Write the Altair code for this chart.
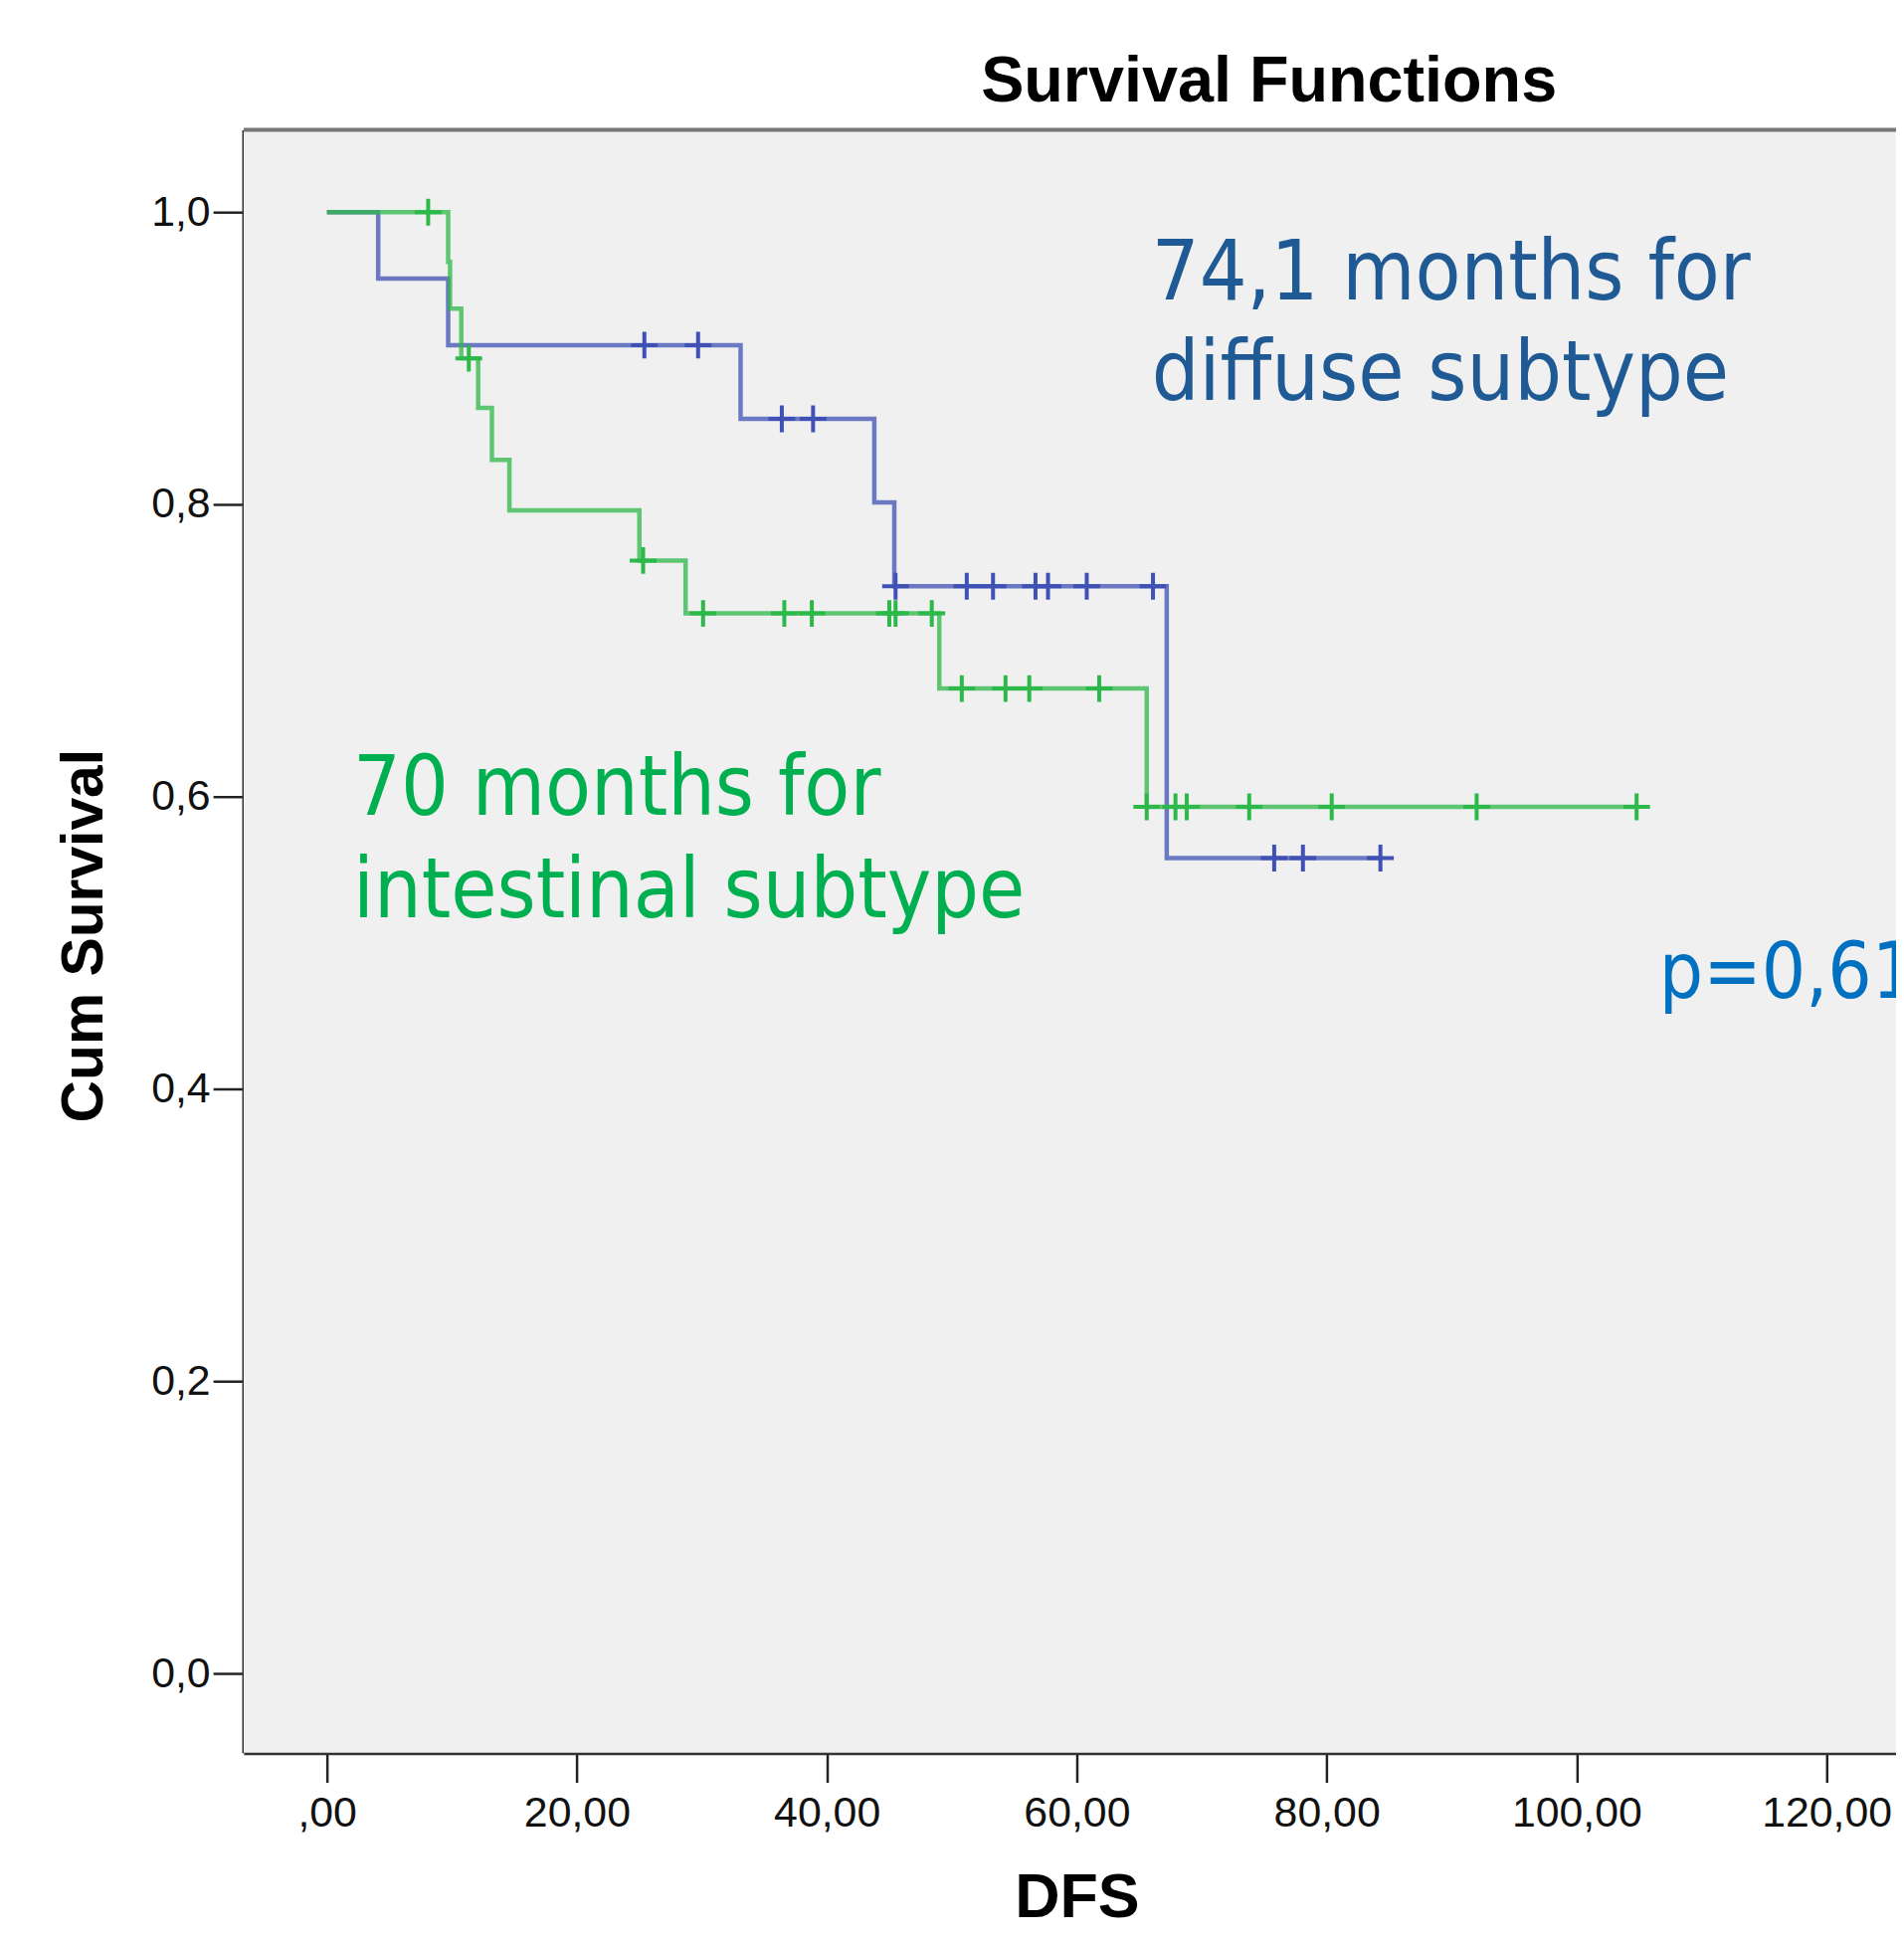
import altair as alt
import pandas as pd

# ---- data ----
blue_t = [0, 4.1, 9.7, 33.1, 43.8, 45.4, 67.2, 84.3]
blue_s = [1.0, 0.9545, 0.909, 0.8586, 0.8013, 0.744, 0.558, 0.558]
blue_cens_t = [25.4, 29.7, 36.4, 38.9, 45.5, 51.2, 53.3, 56.7, 57.7, 60.8, 66.1, 75.8, 78.1, 84.3]
blue_cens_s = [0.909, 0.909, 0.8586, 0.8586, 0.744, 0.744, 0.744, 0.744, 0.744, 0.744, 0.744,
               0.558, 0.558, 0.558]

green_t = [0, 9.7, 9.85, 10.75, 12.1, 13.2, 14.6, 25.0, 28.7, 49.0, 65.6, 104.8]
green_s = [1.0, 0.966, 0.934, 0.900, 0.866, 0.8305, 0.796, 0.7616, 0.7254, 0.674, 0.593, 0.593]
green_cens_t = [8.1, 11.35, 25.3, 30.1, 36.6, 38.8, 45.0, 45.5, 48.4, 50.8, 54.3, 56.2, 61.8,
                65.6, 67.9, 68.8, 73.8, 80.4, 92.0, 104.8]
green_cens_s = [1.0, 0.900, 0.7616, 0.7254, 0.7254, 0.7254, 0.7254, 0.7254, 0.7254,
                0.674, 0.674, 0.674, 0.674, 0.593, 0.593, 0.593, 0.593, 0.593, 0.593, 0.593]

groups = ["diffuse", "intestinal"]
group_colors = ["#3F51B5", "#2DB84A"]

x_ticks = [0, 20, 40, 60, 80, 100, 120]
y_ticks = [0.0, 0.2, 0.4, 0.6, 0.8, 1.0]

note_text = ["74,1 months for", "diffuse subtype", "70 months for", "intestinal subtype", "p=0,61"]
note_t = [66.0, 66.0, 2.1, 2.1, 106.6]
note_s = [0.9403, 0.8712, 0.5878, 0.5173, 0.4624]
note_color = ["#1F5A94", "#1F5A94", "#00B050", "#00B050", "#0070C0"]
note_size = [84, 84, 84, 84, 78]

# ---- tables ----
curve = pd.concat([
    pd.DataFrame({"t": blue_t, "s": blue_s, "g": groups[0]}),
    pd.DataFrame({"t": green_t, "s": green_s, "g": groups[1]}),
])
cens = pd.concat([
    pd.DataFrame({"t": blue_cens_t, "s": blue_cens_s, "g": groups[0]}),
    pd.DataFrame({"t": green_cens_t, "s": green_cens_s, "g": groups[1]}),
])
notes = pd.DataFrame({"t": note_t, "s": note_s, "txt": note_text, "c": note_color, "fs": note_size})

W, H = 1668, 1638

xscale = alt.Scale(domain=[-6.66, 125.56], nice=False, zero=False)
yscale = alt.Scale(domain=[-0.0542, 1.0563], nice=False, zero=False)
cscale = alt.Scale(domain=groups, range=group_colors)

xaxis = alt.Axis(
    values=x_ticks,
    labelExpr="datum.value == 0 ? ',00' : replace(format(datum.value, '.2f'), '.', ',')",
    labelFont="Liberation Sans", labelFontSize=43, labelColor="#111111", labelPadding=10,
    tickSize=30, tickWidth=2.5, tickColor="#222222",
    domainColor="#333333", domainWidth=4, grid=False,
    title="DFS", titleFont="Liberation Sans", titleFontSize=63, titleFontWeight="bold",
    titleColor="#000000", titleX=841, titleY=166, titleBaseline="alphabetic", titleAlign="center",
)
yaxis = alt.Axis(
    values=y_ticks,
    labelExpr="replace(format(datum.value, '.1f'), '.', ',')",
    labelFont="Liberation Sans", labelFontSize=43, labelColor="#111111", labelPadding=3,
    tickSize=31, tickWidth=2.5, tickColor="#222222",
    domainColor="#333333", domainWidth=4, grid=False,
    title="Cum Survival", titleFont="Liberation Sans", titleFontSize=59, titleFontWeight="bold",
    titleColor="#000000", titleAngle=270, titleX=-143, titleY=813,
    titleBaseline="alphabetic", titleAlign="center",
)

x_enc = alt.X("t:Q", scale=xscale, axis=xaxis)
y_enc = alt.Y("s:Q", scale=yscale, axis=yaxis)

one = pd.DataFrame({"k": [0]})

bg = alt.Chart(one).mark_rect(fill="#F0F0F0", stroke="#F0F0F0", strokeWidth=0).encode(
    x=alt.value(0), x2=alt.value(W), y=alt.value(0), y2=alt.value(H)
)

lines = alt.Chart(curve).mark_line(interpolate="step-after", strokeWidth=4.5, opacity=0.75).encode(
    x=x_enc, y=y_enc, color=alt.Color("g:N", scale=cscale, legend=None), detail="g:N"
)

marks = alt.Chart(cens).mark_point(
    shape="M -1 0 L 1 0 M 0 -1 L 0 1", filled=False, size=729, strokeWidth=4, opacity=1
).encode(
    x="t:Q", y="s:Q", color=alt.Color("g:N", scale=cscale, legend=None)
)

text = alt.Chart(notes).mark_text(
    align="left", baseline="alphabetic", font="DejaVu Sans Condensed"
).encode(
    x="t:Q", y="s:Q", text="txt:N", color=alt.Color("c:N", scale=None),
    size=alt.Size("fs:Q", scale=None)
)

top_border = alt.Chart(one).mark_rule(color="#777777", strokeWidth=4).encode(
    x=alt.value(0), x2=alt.value(W + 10), y=alt.value(0)
)

chart = alt.layer(bg, lines, marks, text, top_border).properties(
    width=W, height=H,
    autosize=alt.AutoSizeParams(type="none"),
    padding={"left": 238, "top": 119, "right": 0, "bottom": 176},
    title=alt.TitleParams(
        "Survival Functions", font="Liberation Sans", fontSize=65, fontWeight="bold",
        color="#000000", anchor="middle", frame="group", dx=201, offset=-38, baseline="alphabetic",
    ),
).configure_view(fill="#F0F0F0", strokeOpacity=0).configure(background="#FFFFFF")

chart.save("out.html", embed_options={"renderer": "svg", "actions": False})
